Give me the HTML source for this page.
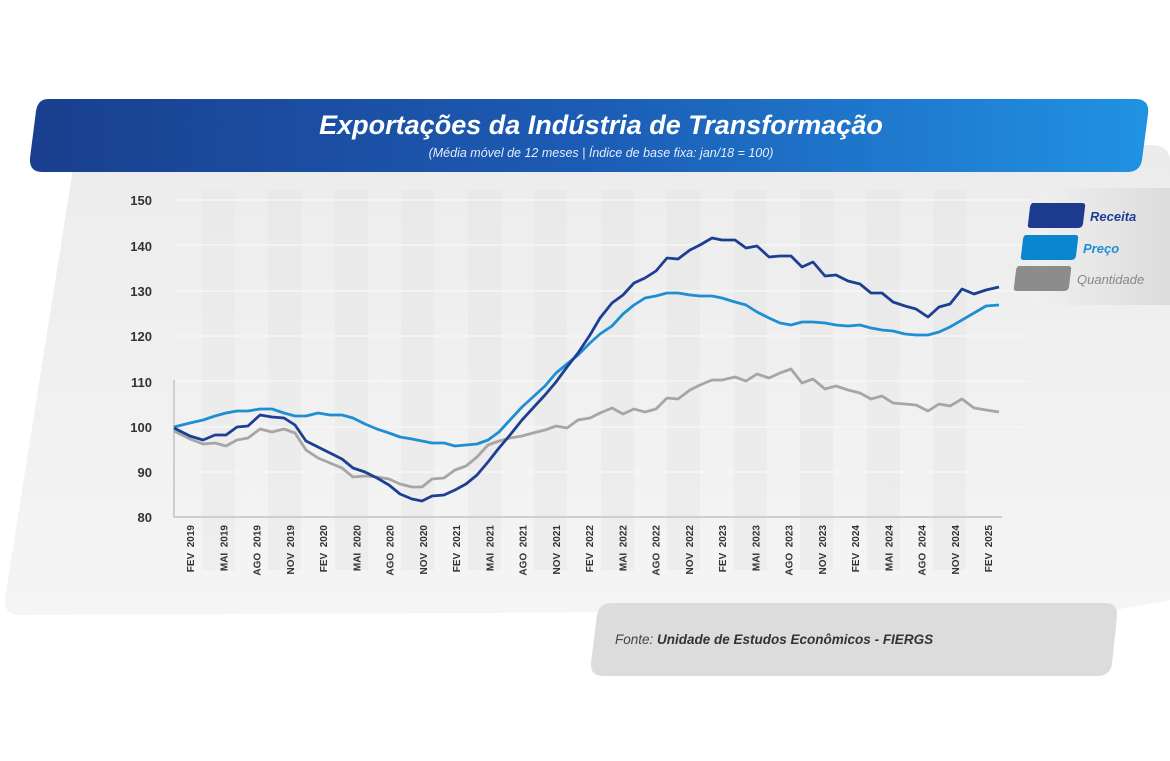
<!DOCTYPE html>
<html><head><meta charset="utf-8"><style>
html,body{margin:0;padding:0;background:#fff;}
svg{display:block;font-family:"Liberation Sans","DejaVu Sans",sans-serif;}
</style></head><body>
<svg width="1170" height="761" viewBox="0 0 1170 761" xmlns="http://www.w3.org/2000/svg">
<defs>
<linearGradient id="tg" x1="0" x2="1" y1="0" y2="0"><stop offset="0" stop-color="#1a3f8e"/><stop offset="0.5" stop-color="#1c5cb5"/><stop offset="1" stop-color="#2192e2"/></linearGradient>
<linearGradient id="cg" x1="0" x2="0" y1="0" y2="1"><stop offset="0" stop-color="#ececec"/><stop offset="1" stop-color="#f5f5f5"/></linearGradient>
<linearGradient id="lg" x1="0" x2="1" y1="0" y2="0"><stop offset="0" stop-color="#f0f0f0"/><stop offset="1" stop-color="#dcdcdc"/></linearGradient>
</defs>
<path d="M76 150 L1150 145 Q1172 145 1170 165 L1170 600 L1115 610 L20 615 Q3 615 5 598 Z" fill="url(#cg)"/>
<path d="M1050 188 L1170 188 L1170 305 L1045 305 Q1033 305 1035 292 L1040 200 Q1042 188 1050 188 Z" fill="url(#lg)"/>
<g fill="#e6e6e6" opacity="0.45">
<rect x="202" y="190" width="33" height="380"/><rect x="268" y="190" width="33" height="380"/><rect x="335" y="190" width="33" height="380"/><rect x="401" y="190" width="33" height="380"/><rect x="468" y="190" width="33" height="380"/><rect x="534" y="190" width="33" height="380"/><rect x="601" y="190" width="33" height="380"/><rect x="667" y="190" width="33" height="380"/><rect x="734" y="190" width="33" height="380"/><rect x="800" y="190" width="33" height="380"/><rect x="867" y="190" width="33" height="380"/><rect x="933" y="190" width="33" height="380"/>
</g>
<g stroke="#f6f6f6" stroke-width="1.5">
<line x1="174" x2="1030" y1="200" y2="200"/><line x1="174" x2="1030" y1="245" y2="245"/><line x1="174" x2="1030" y1="291" y2="291"/><line x1="174" x2="1030" y1="336" y2="336"/><line x1="174" x2="1030" y1="381" y2="381"/><line x1="174" x2="1030" y1="427" y2="427"/><line x1="174" x2="1030" y1="472" y2="472"/>
</g>
<path d="M174 380 L174 517 L1002 517" fill="none" stroke="#cfcfcf" stroke-width="2"/>
<path d="M48 99 L1135 99 Q1150 99 1148 114 L1142 160 Q1140 172 1127 172 L42 172 Q29 172 30 158 L36 111 Q38 99 48 99 Z" fill="url(#tg)"/>
<text x="601" y="134" text-anchor="middle" fill="#fff" font-size="27" font-weight="bold" font-style="italic">Exportações da Indústria de Transformação</text>
<text x="601" y="157" text-anchor="middle" fill="#e6eefa" font-size="12.5" font-style="italic">(Média móvel de 12 meses | Índice de base fixa: jan/18 = 100)</text>
<g font-size="13" font-weight="bold" fill="#333" text-anchor="end">
<text x="152" y="205">150</text><text x="152" y="251">140</text><text x="152" y="296">130</text><text x="152" y="341">120</text><text x="152" y="387">110</text><text x="152" y="432">100</text><text x="152" y="477">90</text><text x="152" y="522">80</text>
</g>
<g font-size="10" font-weight="bold" fill="#333" text-anchor="end" id="xl"></g>
<polyline fill="none" stroke="#a6a6a6" stroke-width="2.8" stroke-linejoin="round" points="174,431 190,439 203,444 215,443 226,446 237,440 248,438 260,429 272,432 284,429 295,433 306,450 318,458 330,463 342,468 353,477 365,476 377,477 389,479 400,484 412,487 422,487 432,479 444,478 455,470 466,466 477,457 488,445 499,441 510,438 522,436 533,433 545,430 556,426 567,428 578,420 590,418 600,413 612,408 623,414 634,409 645,412 656,409 667,398 678,399 690,390 700,385 712,380 722,380 735,377 746,381 757,374 769,378 780,373 791,369 802,383 813,379 825,389 836,386 848,390 860,393 871,399 882,396 893,403 905,404 916,405 928,411 939,404 950,406 962,399 974,408 986,410 999,412"/>
<polyline fill="none" stroke="#1e8fd3" stroke-width="2.8" stroke-linejoin="round" points="174,427 190,423 203,420 215,416 226,413 237,411 248,411 260,409 272,409 284,413 295,416 306,416 318,413 330,415 342,415 353,418 365,424 377,429 389,433 400,437 412,439 422,441 432,443 444,443 455,446 466,445 477,444 488,440 499,432 510,420 522,407 533,397 545,386 556,373 567,364 578,355 590,343 600,334 612,326 623,314 634,305 645,298 656,296 667,293 678,293 690,295 700,296 712,296 722,298 735,302 746,305 757,312 769,318 780,323 791,325 802,322 813,322 825,323 836,325 848,326 860,325 871,328 882,330 893,331 905,334 916,335 928,335 939,332 950,327 962,320 974,313 986,306 999,305"/>
<polyline fill="none" stroke="#1d3f93" stroke-width="2.8" stroke-linejoin="round" points="174,428 190,436 203,440 215,435 226,435 237,427 248,426 260,415 272,417 284,418 295,425 306,441 318,447 330,453 342,459 353,468 365,472 377,478 389,485 400,494 412,499 422,501 432,496 444,495 455,490 466,484 477,475 488,462 499,448 510,435 522,420 533,408 545,395 556,382 567,367 578,353 590,335 600,318 612,303 623,295 634,283 645,278 656,271 667,258 678,259 690,250 700,245 712,238 722,240 735,240 746,248 757,246 769,257 780,256 791,256 802,267 813,262 825,276 836,275 848,281 860,284 871,293 882,293 893,302 905,306 916,309 928,317 939,307 950,304 962,289 974,294 986,290 999,287"/>
<path d="M1033 203 L1082 203 Q1086 203 1085 207 L1083 224 Q1082 228 1078 228 L1031 228 Q1027 228 1028 224 L1030 207 Q1031 203 1033 203 Z" fill="#1c3b8e"/>
<path d="M1026 235 L1075 235 Q1079 235 1078 239 L1076 256 Q1075 260 1071 260 L1024 260 Q1020 260 1021 256 L1023 239 Q1024 235 1026 235 Z" fill="#0a85d0"/>
<path d="M1019 266 L1068 266 Q1072 266 1071 270 L1069 287 Q1068 291 1064 291 L1017 291 Q1013 291 1014 287 L1016 270 Q1017 266 1019 266 Z" fill="#8c8c8c"/>
<text x="1090" y="221" fill="#1d3f93" font-size="13" font-style="italic" font-weight="bold">Receita</text>
<text x="1083" y="253" fill="#1e8fd3" font-size="13" font-style="italic" font-weight="bold">Preço</text>
<text x="1077" y="284" fill="#888" font-size="13" font-style="italic">Quantidade</text>
<path d="M612 603 L1105 603 Q1118 603 1117 616 L1112 664 Q1110 676 1097 676 L603 676 Q590 676 591 663 L597 615 Q599 603 612 603 Z" fill="#dcdcdc"/>
<text x="615" y="644" font-size="13.5" font-style="italic" fill="#444">Fonte: <tspan font-weight="bold" fill="#333">Unidade de Estudos Econômicos - FIERGS</tspan></text>
</svg>
<script>
var g=document.getElementById('xl');var m=['FEV','MAI','AGO','NOV'];var s='';
for(var k=0;k<25;k++){var x=194+33.25*k;var y=2019+Math.floor(k/4);
s+='<text transform="translate('+x.toFixed(1)+',525) rotate(-90)" xml:space="preserve">'+m[k%4]+'  '+y+'</text>';}
g.innerHTML=s;
</script>
</body></html>
